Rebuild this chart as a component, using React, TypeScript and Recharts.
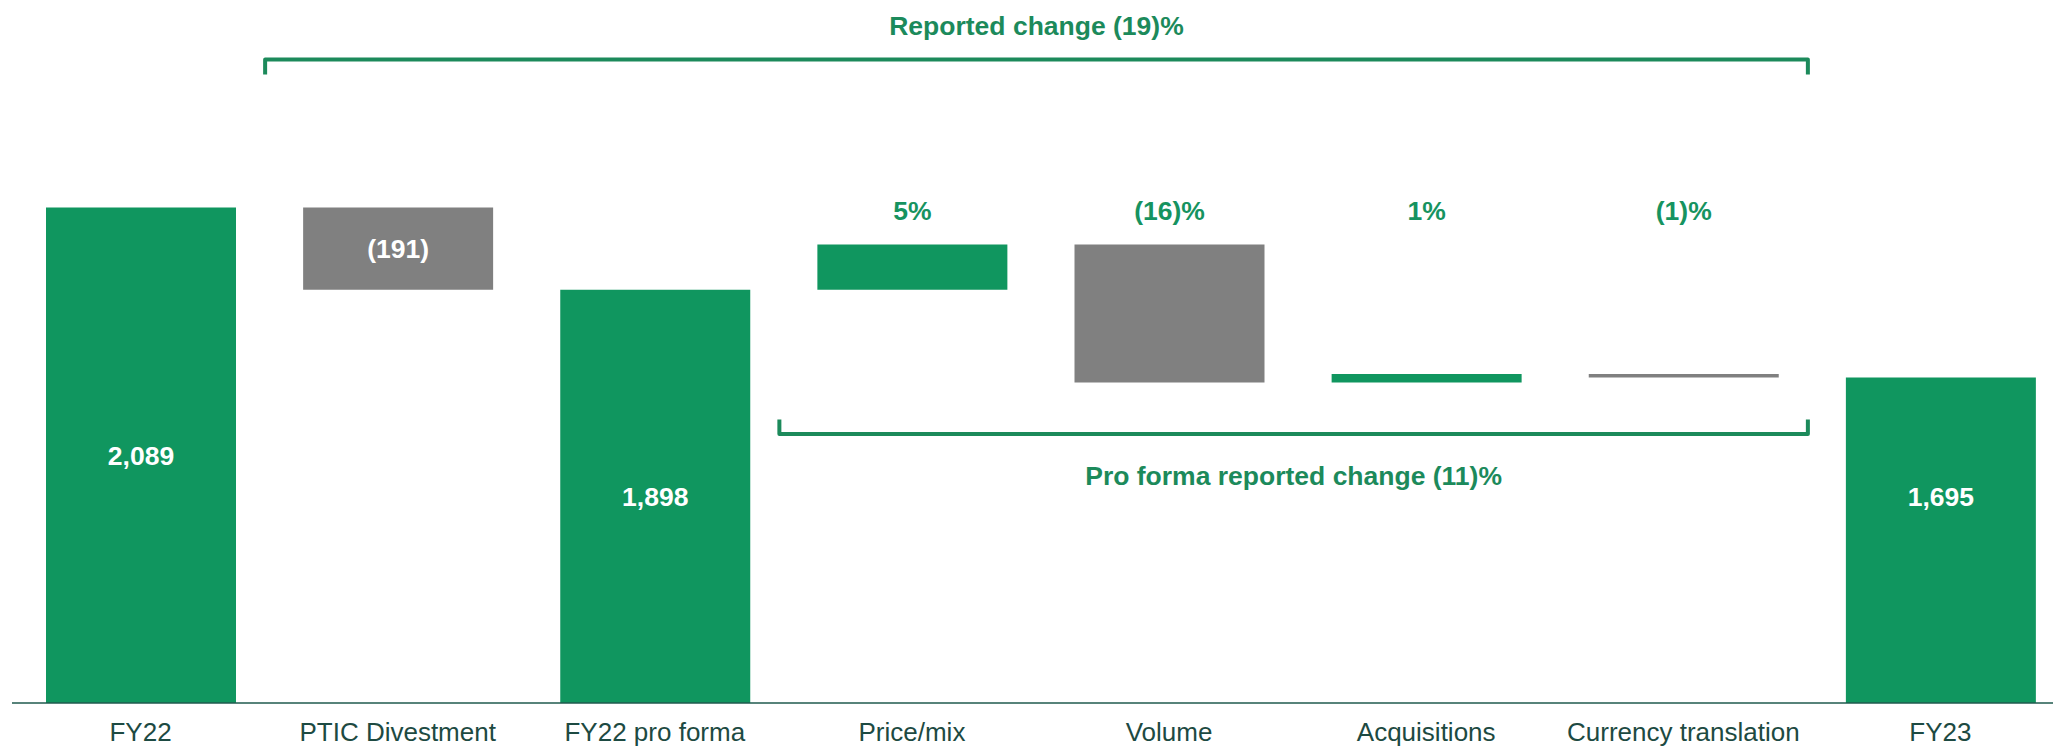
import React from 'react';
import { BarChart, Bar, XAxis, YAxis, Cell, LabelList, ReferenceLine } from 'recharts';

// ---------- data ----------
const categories = [
  'FY22',
  'PTIC Divestment',
  'FY22 pro forma',
  'Price/mix',
  'Volume',
  'Acquisitions',
  'Currency translation',
  'FY23',
];
// 'total' bars start at the axis; 'delta' bars float from the running total
const barKinds = ['total', 'delta', 'total', 'delta', 'delta', 'delta', 'delta', 'total'];
const barValues = [2089, -191, 1898, 105, -320, 20, -8, 1695];
const barLabels = ['2,089', '(191)', '1,898', '5%', '(16)%', '1%', '(1)%', '1,695'];

const reportedChangeText = 'Reported change (19)%';
const proFormaChangeText = 'Pro forma reported change (11)%';

// bracket spans: from the start of one category slot to the start of another, at a value level
const topBracket = { from: 'PTIC Divestment', to: 'FY23', y: 2432 };
const bottomBracket = { from: 'Price/mix', to: 'FY23', y: 1564 };

// ---------- scale / layout ----------
const Y_MIN = 940;
const Y_MAX = 2570;
const CHART_W = 2069;
const CHART_H = 747;

const GREEN = '#10965f';
const GREY = '#808080';
const BRACKET = '#1c8a5b';
const LABEL_GREEN = '#169360';
const AXIS_TEXT = '#1d4a42';
const AXIS_LINE = '#1f5a4e';
const FONT = '"Liberation Sans", Arial, sans-serif';

type Row = {
  name: string;
  range: [number, number];
  label: string;
  kind: string;
  value: number;
  positive: boolean;
};

function buildData(): Row[] {
  let running = 0;
  return categories.map((name, i) => {
    const v = barValues[i];
    let low: number;
    let high: number;
    if (barKinds[i] === 'total') {
      low = Y_MIN;
      high = v;
      running = v;
    } else {
      const s = running;
      const e = running + v;
      low = Math.min(s, e);
      high = Math.max(s, e);
      running = e;
    }
    return {
      name,
      range: [low, high],
      label: barLabels[i],
      kind: barKinds[i],
      value: v,
      positive: barKinds[i] === 'total' || v >= 0,
    };
  });
}

const data = buildData();

const PCT_BASELINE = 220;

const renderBarLabel = (props: any) => {
  const { x, y, width, height, index, value } = props;
  const d = data[index];
  if (!d) return null;
  const cx = Number(x) + Number(width) / 2;
  const text = String(value);
  if (text.endsWith('%')) {
    return (
      <text
        x={cx}
        y={PCT_BASELINE}
        textAnchor="middle"
        fill={LABEL_GREEN}
        fontFamily={FONT}
        fontWeight={700}
        fontSize={26.5}
      >
        {text}
      </text>
    );
  }
  const top = Number(y);
  const h = Number(height);
  let cy = top + h / 2;
  if (d.kind === 'total' && index === data.length - 1) {
    // closing total label sits level with the pro forma label
    let refIdx = index - 1;
    while (refIdx >= 0 && data[refIdx].kind !== 'total') refIdx--;
    const ref = data[refIdx];
    const mid = (ref.range[0] + ref.range[1]) / 2;
    const k = h / (d.range[1] - d.range[0]);
    cy = top + h - (mid - d.range[0]) * k;
  }
  return (
    <text
      x={cx}
      y={cy}
      dy="0.36em"
      textAnchor="middle"
      fill="#ffffff"
      fontFamily={FONT}
      fontWeight={700}
      fontSize={26.5}
    >
      {text}
    </text>
  );
};

const renderTick = (props: any) => {
  const { x, y, payload } = props;
  return (
    <text
      x={x}
      y={Number(y) + 38}
      textAnchor="middle"
      fill={AXIS_TEXT}
      fontFamily={FONT}
      fontSize={26}
    >
      {payload.value}
    </text>
  );
};

const BRACKET_SHIFT = -4;
const makeBracketShape = (tick: number) => (props: any) => {
  const { x1, y1, x2 } = props;
  if (x1 == null || x2 == null || y1 == null) return null;
  const xa = Number(x1) + BRACKET_SHIFT;
  const xb = Number(x2) + BRACKET_SHIFT;
  const yy = Number(y1);
  return (
    <path
      d={`M${xa},${yy + tick} L${xa},${yy} L${xb},${yy} L${xb},${yy + tick}`}
      fill="none"
      stroke={BRACKET}
      strokeWidth={4}
      strokeLinejoin="round"
    />
  );
};

const labelStyle = {
  fill: BRACKET,
  fontFamily: FONT,
  fontWeight: 700,
  fontSize: 26.5,
};

export default function App() {
  return (
    <div
      style={{
        position: 'absolute',
        left: 0,
        top: 0,
        width: 2053,
        height: CHART_H,
        overflow: 'hidden',
        background: '#ffffff',
      }}
    >
      <BarChart
        width={CHART_W}
        height={CHART_H}
        data={data}
        margin={{ top: 0, right: 0, bottom: 0, left: 12 }}
      >
        <XAxis
          dataKey="name"
          interval={0}
          height={44}
          tickLine={false}
          tickSize={0}
          tickMargin={0}
          axisLine={{ stroke: AXIS_LINE, strokeWidth: 1.5 }}
          tick={renderTick}
        />
        <YAxis hide domain={[Y_MIN, Y_MAX]} allowDataOverflow />
        <Bar dataKey="range" barSize={190} isAnimationActive={false}>
          {data.map((d, i) => (
            <Cell key={i} fill={d.positive ? GREEN : GREY} />
          ))}
          <LabelList dataKey="label" content={renderBarLabel} />
        </Bar>

        <ReferenceLine
          segment={[
            { x: topBracket.from, y: topBracket.y },
            { x: topBracket.to, y: topBracket.y },
          ]}
          position="start"
          ifOverflow="visible"
          shape={makeBracketShape(15)}
          label={{
            value: reportedChangeText,
            position: 'top',
            offset: 24.5,
            dx: BRACKET_SHIFT,
            ...labelStyle,
          }}
        />
        <ReferenceLine
          segment={[
            { x: bottomBracket.from, y: bottomBracket.y },
            { x: bottomBracket.to, y: bottomBracket.y },
          ]}
          position="start"
          ifOverflow="visible"
          shape={makeBracketShape(-14.5)}
          label={{
            value: proFormaChangeText,
            position: 'bottom',
            offset: 32.5,
            dx: BRACKET_SHIFT,
            ...labelStyle,
          }}
        />
      </BarChart>
    </div>
  );
}
